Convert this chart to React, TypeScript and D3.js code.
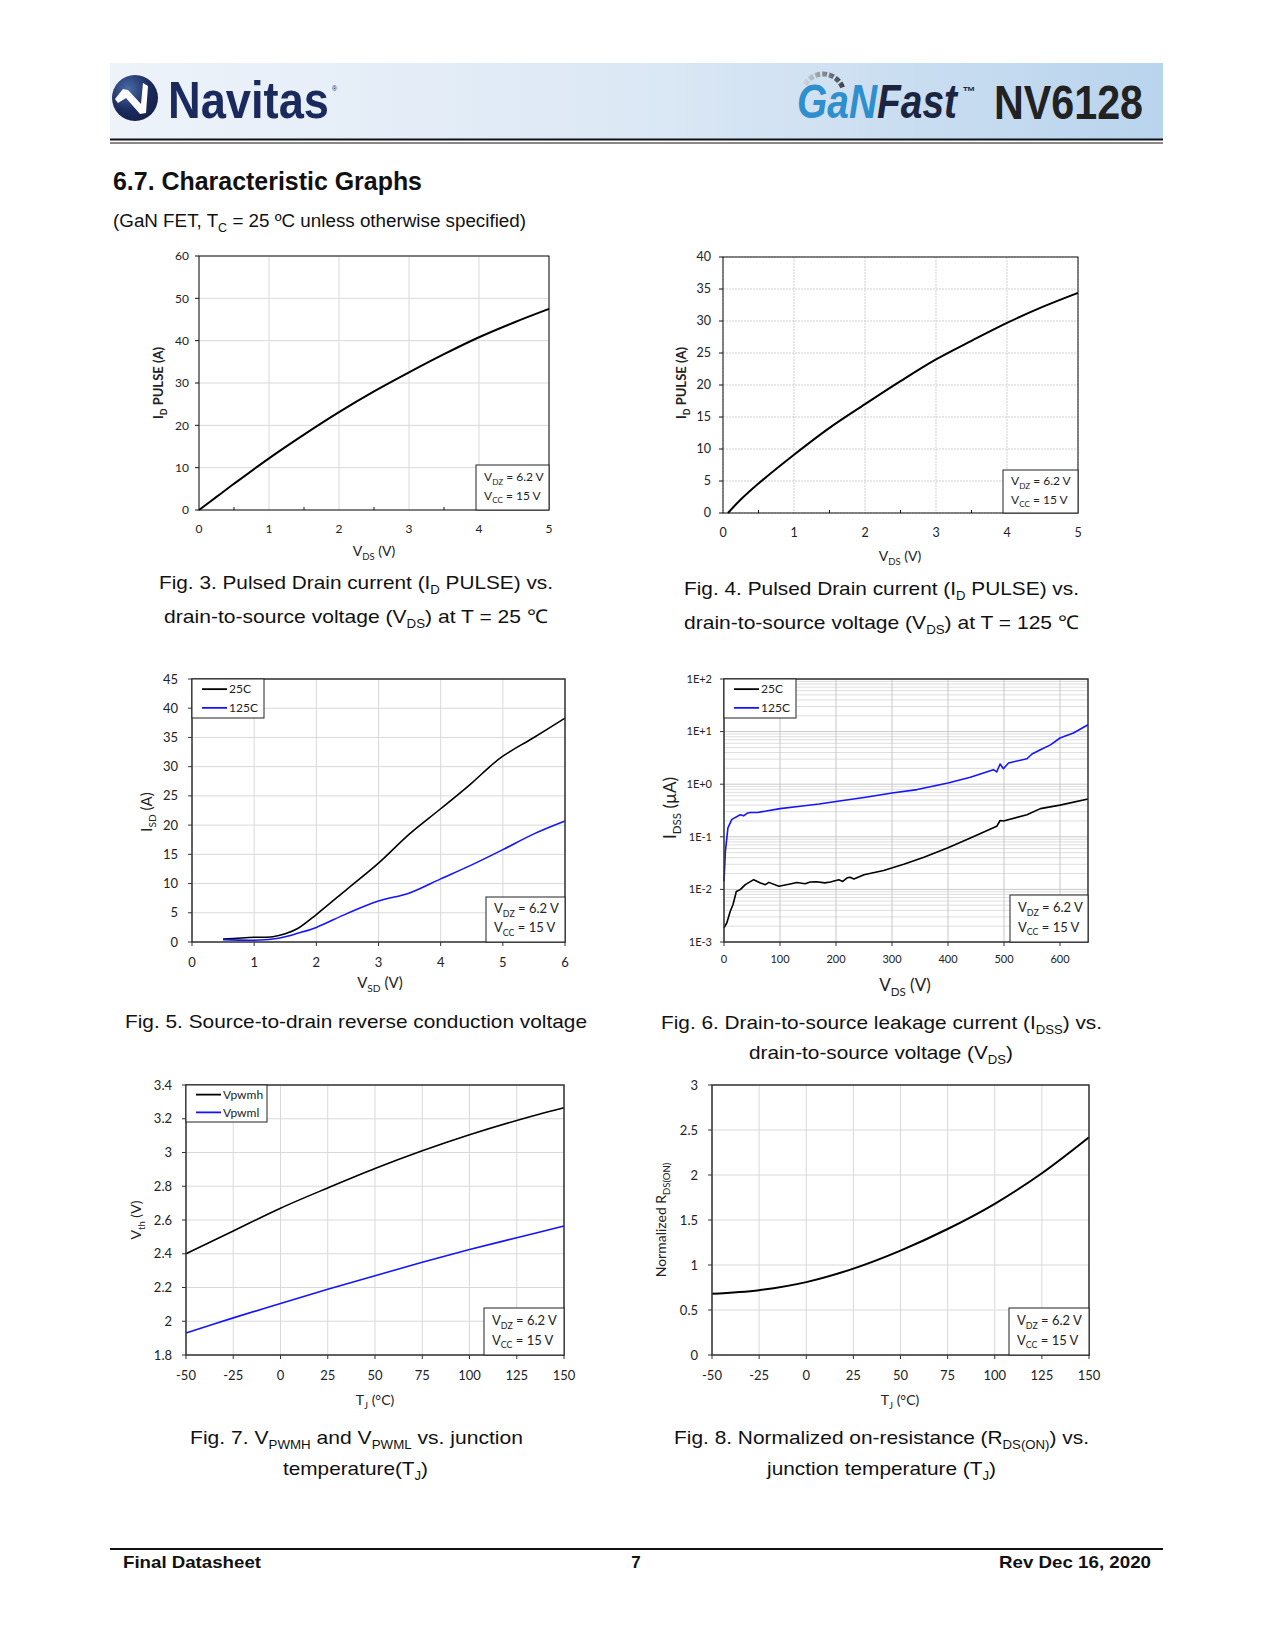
import React from 'react';
import * as d3 from 'd3';

// ---------- DATA ----------
// Fig 3: Pulsed drain current vs VDS at 25C
const fig3Vds = [0, 0.25, 0.5, 1, 1.5, 2, 2.5, 3, 3.5, 4, 4.5, 5];
const fig3Id = [0, 3.1, 6.2, 12.2, 17.8, 23.1, 28.0, 32.5, 36.8, 40.8, 44.3, 47.5];
const fig3XTicks = [0, 1, 2, 3, 4, 5];
const fig3YTicks = [0, 10, 20, 30, 40, 50, 60];

// Fig 4: Pulsed drain current vs VDS at 125C
const fig4Vds = [0.07, 0.25, 0.5, 1, 1.5, 2, 2.5, 3, 3.5, 4, 4.5, 5];
const fig4Id = [0, 2.1, 4.6, 9.1, 13.3, 17.0, 20.6, 24.0, 26.9, 29.7, 32.2, 34.4];
const fig4XTicks = [0, 1, 2, 3, 4, 5];
const fig4YTicks = [0, 5, 10, 15, 20, 25, 30, 35, 40];

// Fig 5: Source-to-drain reverse conduction
const fig5Vsd = [0.5, 1.0, 1.3, 1.5, 1.7, 2, 2.5, 3, 3.5, 4, 4.5, 4.8, 5, 5.5, 6];
const fig5Isd25 = [0.5, 0.8, 0.9, 1.4, 2.3, 4.7, 9.1, 13.5, 18.5, 22.8, 27.2, 30.1, 31.8, 35.0, 38.3];
const fig5Vsd125 = [0.5, 1.0, 1.3, 1.5, 1.7, 2, 2.5, 3, 3.5, 4, 4.5, 5, 5.5, 6];
const fig5Isd125 = [0.4, 0.3, 0.5, 0.9, 1.5, 2.5, 4.9, 7.0, 8.4, 10.8, 13.2, 15.8, 18.5, 20.7];
const fig5XTicks = [0, 1, 2, 3, 4, 5, 6];
const fig5YTicks = [0, 5, 10, 15, 20, 25, 30, 35, 40, 45];

// Fig 6: IDSS leakage vs VDS (uA, log)
const fig6Vds25 = [0, 5, 11, 16, 22, 29, 38, 53, 65, 74, 80, 98, 118, 130, 145, 154, 165, 180, 190, 205, 212, 220, 225, 232, 250, 285, 321, 357, 400, 440, 487, 493, 499, 541, 565, 600, 650];
const fig6I25 = [0.00185, 0.0023, 0.0038, 0.0051, 0.0091, 0.0099, 0.0123, 0.0153, 0.0132, 0.0123, 0.0136, 0.0115, 0.0127, 0.0135, 0.0128, 0.0138, 0.014, 0.0133, 0.0138, 0.0152, 0.0142, 0.0166, 0.017, 0.0158, 0.019, 0.0229, 0.030, 0.041, 0.062, 0.095, 0.158, 0.204, 0.2, 0.263, 0.343, 0.4, 0.525];
const fig6Vds125 = [0, 2.4, 7, 14, 29, 35, 41, 47, 60, 100, 136, 170, 200, 250, 300, 345, 400, 440, 481, 487, 493, 499, 508, 541, 550, 565, 583, 600, 624, 650];
const fig6I125 = [0.0142, 0.052, 0.148, 0.214, 0.263, 0.25, 0.28, 0.29, 0.29, 0.343, 0.38, 0.42, 0.47, 0.56, 0.68, 0.79, 1.05, 1.35, 1.89, 1.71, 2.42, 1.97, 2.53, 3.05, 3.75, 4.5, 5.6, 7.55, 9.4, 13.5];
const fig6XTicks = [0, 100, 200, 300, 400, 500, 600];
const fig6YTicks = [1e-3, 1e-2, 1e-1, 1, 10, 100];
const fig6YLabels = ['1E-3', '1E-2', '1E-1', '1E+0', '1E+1', '1E+2'];

// Fig 7: VPWMH / VPWML vs Tj
const fig7Tj = [-50, -25, 0, 25, 50, 75, 100, 125, 150];
const fig7Vpwmh = [2.4, 2.535, 2.67, 2.79, 2.905, 3.01, 3.105, 3.19, 3.265];
const fig7Vpwml = [1.93, 2.02, 2.105, 2.19, 2.27, 2.35, 2.425, 2.495, 2.565];
const fig7XTicks = [-50, -25, 0, 25, 50, 75, 100, 125, 150];
const fig7YTicks = [1.8, 2, 2.2, 2.4, 2.6, 2.8, 3, 3.2, 3.4];

// Fig 8: Normalized RDS(on) vs Tj
const fig8Tj = [-50, -25, 0, 25, 50, 75, 100, 125, 150];
const fig8Rds = [0.68, 0.72, 0.81, 0.96, 1.16, 1.40, 1.68, 2.02, 2.42];
const fig8XTicks = [-50, -25, 0, 25, 50, 75, 100, 125, 150];
const fig8YTicks = [0, 0.5, 1, 1.5, 2, 2.5, 3];

// ---------- HELPERS ----------
const CF = "Lato, 'Open Sans', sans-serif";
const SF = "'Liberation Sans', Arial, sans-serif";

type Ser = { xs: number[]; ys: number[]; color: string; width: number; linear?: boolean };

interface ChartProps {
  box: [number, number, number, number];
  xDomain: [number, number];
  yDomain: [number, number];
  log?: boolean;
  xTicks: number[];
  yTicks: number[];
  yLabels?: string[];
  minorX?: number[];
  gridColor: string;
  gridDash?: string;
  series: Ser[];
  fs: number;
  xTickBase: number;
  yTickRight: number;
  frameColor: string;
  frameWidth: number;
  xTickOut?: boolean;
  children?: React.ReactNode;
}

function Chart(p: ChartProps) {
  const [l, t, r, b] = p.box;
  const xs = d3.scaleLinear().domain(p.xDomain).range([l, r]);
  const ys: any = p.log
    ? d3.scaleLog().domain(p.yDomain).range([b, t])
    : d3.scaleLinear().domain(p.yDomain).range([b, t]);
  const minorY: number[] = [];
  if (p.log) {
    for (let d = -3; d <= 1; d++) for (let m = 2; m <= 9; m++) minorY.push(m * Math.pow(10, d));
  }
  return (
    <g>
      <rect x={l} y={t} width={r - l} height={b - t} fill="white" />
      {minorY.map((v, i) => (
        <line key={'my' + i} x1={l} x2={r} y1={ys(v)} y2={ys(v)} stroke="#d6d6d6" strokeWidth={0.8} />
      ))}
      {p.xTicks.map((v, i) => (
        <line key={'gx' + i} x1={xs(v)} x2={xs(v)} y1={t} y2={b} stroke={p.gridColor} strokeWidth={1} strokeDasharray={p.gridDash} />
      ))}
      {p.yTicks.map((v, i) => (
        <line key={'gy' + i} x1={l} x2={r} y1={ys(v)} y2={ys(v)} stroke={p.gridColor} strokeWidth={1} strokeDasharray={p.gridDash} />
      ))}
      {p.series.map((s, i) => {
        const pts = s.xs.map((x, k) => [x, s.ys[k]] as [number, number]);
        const gen = d3.line<[number, number]>()
          .x((d) => xs(d[0]))
          .y((d) => ys(d[1]))
          .curve(s.linear ? d3.curveLinear : d3.curveCatmullRom.alpha(0.5));
        return <path key={'s' + i} d={gen(pts) || ''} fill="none" stroke={s.color} strokeWidth={s.width} strokeLinejoin="round" />;
      })}
      <rect x={l} y={t} width={r - l} height={b - t} fill="none" stroke={p.frameColor} strokeWidth={p.frameWidth} />
      {p.yTicks.map((v, i) => (
        <line key={'ty' + i} x1={l - 4} x2={l} y1={ys(v)} y2={ys(v)} stroke={p.frameColor} strokeWidth={1} />
      ))}
      {p.xTicks.map((v, i) => (
        <line key={'tx' + i} x1={xs(v)} x2={xs(v)} y1={b} y2={b + (p.xTickOut ? 4 : 0)} stroke={p.frameColor} strokeWidth={1} />
      ))}
      {(p.minorX || []).map((v, i) => (
        <line key={'mx' + i} x1={xs(v)} x2={xs(v)} y1={b - 3} y2={b} stroke={p.frameColor} strokeWidth={1} />
      ))}
      {p.yTicks.map((v, i) => (
        <text key={'ly' + i} x={p.yTickRight} y={ys(v) + p.fs * 0.35} textAnchor="end" fontFamily={CF} fontSize={p.fs} fill="#222">
          {p.yLabels ? p.yLabels[i] : String(v)}
        </text>
      ))}
      {p.xTicks.map((v, i) => (
        <text key={'lx' + i} x={xs(v)} y={p.xTickBase} textAnchor="middle" fontFamily={CF} fontSize={p.fs} fill="#222">
          {String(v)}
        </text>
      ))}
      {p.children}
    </g>
  );
}

function SubT(main: string, s: string, rest: string, fs: number) {
  const d = fs * 0.28;
  return [
    <tspan key="a">{main}</tspan>,
    <tspan key="b" fontSize={fs * 0.68} dy={d}>{s}</tspan>,
    <tspan key="c" dy={-d}>{rest}</tspan>,
  ];
}

function CondBox({ x, y, w, h, fs }: { x: number; y: number; w: number; h: number; fs: number }) {
  return (
    <g>
      <rect x={x} y={y} width={w} height={h} fill="white" stroke="#222" strokeWidth={1} />
      <text x={x + 8} y={y + h * 0.36} fontFamily={CF} fontSize={fs} fill="#222">{SubT('V', 'DZ', ' = 6.2 V', fs)}</text>
      <text x={x + 8} y={y + h * 0.78} fontFamily={CF} fontSize={fs} fill="#222">{SubT('V', 'CC', ' = 15 V', fs)}</text>
    </g>
  );
}

function Legend({ x, y, w, h, names, colors, fs, lineLen }: { x: number; y: number; w: number; h: number; names: string[]; colors: string[]; fs: number; lineLen: number }) {
  return (
    <g>
      <rect x={x} y={y} width={w} height={h} fill="white" stroke="#222" strokeWidth={1} />
      {names.map((n, i) => {
        const cy = y + h * (i === 0 ? 0.26 : 0.74);
        return (
          <g key={n}>
            <line x1={x + 10} x2={x + 10 + lineLen} y1={cy} y2={cy} stroke={colors[i]} strokeWidth={1.8} />
            <text x={x + 12 + lineLen} y={cy + fs * 0.35} fontFamily={CF} fontSize={fs} fill="#222">{n}</text>
          </g>
        );
      })}
    </g>
  );
}

function Cap({ x, y, w, fs, children }: { x: number; y: number; w: number; fs: number; children: React.ReactNode }) {
  return (
    <text x={x} y={y} fontFamily={SF} fontSize={fs} fill="#111" textLength={w} lengthAdjust="spacingAndGlyphs">
      {children}
    </text>
  );
}

function YTitle({ cx, cy, fs, bold, children }: { cx: number; cy: number; fs: number; bold?: boolean; children: React.ReactNode }) {
  return (
    <text transform={`translate(${cx},${cy}) rotate(-90)`} textAnchor="middle" fontFamily={CF} fontSize={fs} fontWeight={bold ? 'bold' : 'normal'} fill="#222">
      {children}
    </text>
  );
}

function XTitle({ cx, y, fs, children }: { cx: number; y: number; fs: number; children: React.ReactNode }) {
  return (
    <text x={cx} y={y} textAnchor="middle" fontFamily={CF} fontSize={fs} fill="#222">{children}</text>
  );
}

export default function App() {
  const halfTicks = [0.5, 1.5, 2.5, 3.5, 4.5];
  return (
    <svg width={1275} height={1650} viewBox="0 0 1275 1650" style={{ position: 'absolute', left: 0, top: 0, background: 'white' }}>
      <defs>
        <linearGradient id="hdr" x1="0" x2="1" y1="0" y2="0">
          <stop offset="0" stopColor="#eef3fa" />
          <stop offset="0.5" stopColor="#dce8f5" />
          <stop offset="1" stopColor="#b9d4ed" />
        </linearGradient>
        <linearGradient id="swoosh" x1="0" x2="1" y1="0" y2="0">
          <stop offset="0" stopColor="#d0d4da" />
          <stop offset="1" stopColor="#3d434c" />
        </linearGradient>
        <radialGradient id="logoG" cx="0.35" cy="0.3" r="0.8">
          <stop offset="0" stopColor="#4a6aa8" />
          <stop offset="0.6" stopColor="#1b2a5c" />
          <stop offset="1" stopColor="#141f45" />
        </radialGradient>
      </defs>
      {/* Header */}
      <rect x={110} y={63} width={1053} height={76} fill="url(#hdr)" />
      <line x1={110} x2={1163} y1={139.5} y2={139.5} stroke="#111" strokeWidth={2} />
      <line x1={110} x2={1163} y1={143} y2={143} stroke="#111" strokeWidth={1} />
      <circle cx={135} cy={98} r={23} fill="url(#logoG)" />
      <path d="M115,99 L123,89 L128,90 L141,104 L143,83 L148,86 L146,113 L140,114 L126,98 L118,103 Z" fill="white" />
      <text x={168} y={118} fontFamily={SF} fontWeight="bold" fontSize={52} fill="#1b2a5c" textLength={161} lengthAdjust="spacingAndGlyphs">Navitas</text>
      <text x={332} y={91} fontFamily={SF} fontSize={7} fill="#1b2a5c">®</text>
      <path d="M804.8,84.5 A21,21 0 0 1 843.1,88.9" fill="none" stroke="url(#swoosh)" strokeWidth={5} strokeDasharray="5,2" />
      <text x={797} y={118} fontFamily={SF} fontWeight="bold" fontStyle="italic" fontSize={48} textLength={160} lengthAdjust="spacingAndGlyphs">
        <tspan fill="#2f8fcc">GaN</tspan>
        <tspan fill="#1b2540">Fast</tspan>
      </text>
      <text x={962} y={96} fontFamily={SF} fontWeight="bold" fontStyle="italic" fontSize={13} fill="#1b2540">™</text>
      <text x={994} y={119} fontFamily={SF} fontWeight="bold" fontSize={48} fill="#222" textLength={149} lengthAdjust="spacingAndGlyphs">NV6128</text>

      <text x={113} y={190} fontFamily={SF} fontWeight="bold" fontSize={25} fill="#111" textLength={309} lengthAdjust="spacingAndGlyphs">6.7. Characteristic Graphs</text>
      <Cap x={113} y={227} w={413} fs={18}>
        <tspan>(GaN FET, T</tspan>
        <tspan fontSize={12} dy={5}>C</tspan>
        <tspan dy={-5}> = 25 ºC unless otherwise specified)</tspan>
      </Cap>

      {/* Fig 3 */}
      <Chart box={[199, 256, 549, 510]} xDomain={[0, 5]} yDomain={[0, 60]} xTicks={fig3XTicks} yTicks={fig3YTicks}
        minorX={halfTicks} gridColor="#d9d9d9" fs={12} xTickBase={533} yTickRight={189} frameColor="#111" frameWidth={1}
        series={[{ xs: fig3Vds, ys: fig3Id, color: '#000', width: 2 }]}>
        <CondBox x={476} y={465} w={73} h={45} fs={12} />
      </Chart>
      <YTitle cx={163} cy={383} fs={13} bold>{SubT('I', 'D', ' PULSE (A)', 13)}</YTitle>
      <XTitle cx={374} y={556} fs={14}>{SubT('V', 'DS', ' (V)', 14)}</XTitle>
      <Cap x={159} y={589} w={394} fs={19}>
        <tspan>Fig. 3. Pulsed Drain current (I</tspan>
        <tspan fontSize={12} dy={5}>D</tspan>
        <tspan dy={-5}> PULSE) vs.</tspan>
      </Cap>
      <Cap x={164} y={623} w={384} fs={19}>
        <tspan>drain-to-source voltage (V</tspan>
        <tspan fontSize={12} dy={5}>DS</tspan>
        <tspan dy={-5}>) at T = 25 ℃</tspan>
      </Cap>

      {/* Fig 4 */}
      <Chart box={[723, 257, 1078, 513]} xDomain={[0, 5]} yDomain={[0, 40]} xTicks={fig4XTicks} yTicks={fig4YTicks}
        minorX={halfTicks} gridColor="#cfcfcf" gridDash="2,1" fs={12.5} xTickBase={537} yTickRight={711} frameColor="#111" frameWidth={1}
        series={[{ xs: fig4Vds, ys: fig4Id, color: '#000', width: 2 }]}>
        <CondBox x={1003} y={470} w={75} h={43} fs={12} />
      </Chart>
      <YTitle cx={686} cy={383} fs={13} bold>{SubT('I', 'D', ' PULSE (A)', 13)}</YTitle>
      <XTitle cx={900} y={561} fs={14}>{SubT('V', 'DS', ' (V)', 14)}</XTitle>
      <Cap x={684} y={595} w={395} fs={19}>
        <tspan>Fig. 4. Pulsed Drain current (I</tspan>
        <tspan fontSize={12} dy={5}>D</tspan>
        <tspan dy={-5}> PULSE) vs.</tspan>
      </Cap>
      <Cap x={684} y={629} w={395} fs={19}>
        <tspan>drain-to-source voltage (V</tspan>
        <tspan fontSize={12} dy={5}>DS</tspan>
        <tspan dy={-5}>) at T = 125 ℃</tspan>
      </Cap>

      {/* Fig 5 */}
      <Chart box={[192, 679, 565, 942]} xDomain={[0, 6]} yDomain={[0, 45]} xTicks={fig5XTicks} yTicks={fig5YTicks}
        gridColor="#d9d9d9" fs={13} xTickBase={967} yTickRight={178} frameColor="#333" frameWidth={1.5} xTickOut
        series={[
          { xs: fig5Vsd, ys: fig5Isd25, color: '#000', width: 1.6 },
          { xs: fig5Vsd125, ys: fig5Isd125, color: '#1414ff', width: 1.6 },
        ]}>
        <Legend x={192} y={679} w={72} h={39} names={['25C', '125C']} colors={['#000', '#1414ff']} fs={12} lineLen={25} />
        <CondBox x={486} y={897} w={79} h={45} fs={13} />
      </Chart>
      <YTitle cx={152} cy={812} fs={15}>{SubT('I', 'SD', ' (A)', 15)}</YTitle>
      <XTitle cx={380} y={988} fs={15}>{SubT('V', 'SD', ' (V)', 15)}</XTitle>
      <Cap x={125} y={1028} w={462} fs={19}>Fig. 5. Source-to-drain reverse conduction voltage</Cap>

      {/* Fig 6 */}
      <Chart box={[724, 679, 1088, 942]} xDomain={[0, 650]} yDomain={[1e-3, 100]} log xTicks={fig6XTicks} yTicks={fig6YTicks}
        yLabels={fig6YLabels} gridColor="#c8c8c8" fs={11} xTickBase={963} yTickRight={712} frameColor="#333" frameWidth={1.5} xTickOut
        series={[
          { xs: fig6Vds25, ys: fig6I25, color: '#000', width: 1.6, linear: true },
          { xs: fig6Vds125, ys: fig6I125, color: '#1414ff', width: 1.6, linear: true },
        ]}>
        <Legend x={724} y={679} w={72} h={39} names={['25C', '125C']} colors={['#000', '#1414ff']} fs={12} lineLen={25} />
        <CondBox x={1010} y={895} w={78} h={47} fs={13} />
      </Chart>
      <YTitle cx={676} cy={808} fs={17}>{SubT('I', 'DSS', ' (µA)', 17)}</YTitle>
      <XTitle cx={905} y={991} fs={17}>{SubT('V', 'DS', ' (V)', 17)}</XTitle>
      <Cap x={661} y={1029} w={441} fs={19}>
        <tspan>Fig. 6. Drain-to-source leakage current (I</tspan>
        <tspan fontSize={12} dy={5}>DSS</tspan>
        <tspan dy={-5}>) vs.</tspan>
      </Cap>
      <Cap x={749} y={1059} w={264} fs={19}>
        <tspan>drain-to-source voltage (V</tspan>
        <tspan fontSize={12} dy={5}>DS</tspan>
        <tspan dy={-5}>)</tspan>
      </Cap>

      {/* Fig 7 */}
      <Chart box={[186, 1085, 564, 1355]} xDomain={[-50, 150]} yDomain={[1.8, 3.4]} xTicks={fig7XTicks} yTicks={fig7YTicks}
        gridColor="#d9d9d9" fs={13} xTickBase={1380} yTickRight={172} frameColor="#333" frameWidth={1.5} xTickOut
        series={[
          { xs: fig7Tj, ys: fig7Vpwmh, color: '#000', width: 1.6 },
          { xs: fig7Tj, ys: fig7Vpwml, color: '#1414ff', width: 1.6 },
        ]}>
        <Legend x={186} y={1085} w={81} h={37} names={['Vpwmh', 'Vpwml']} colors={['#000', '#1414ff']} fs={12} lineLen={25} />
        <CondBox x={484} y={1308} w={80} h={47} fs={13} />
      </Chart>
      <YTitle cx={141} cy={1220} fs={14}>{SubT('V', 'th', ' (V)', 14)}</YTitle>
      <XTitle cx={375} y={1405} fs={14}>{SubT('T', 'J', ' (°C)', 14)}</XTitle>
      <Cap x={190} y={1444} w={333} fs={19}>
        <tspan>Fig. 7. V</tspan>
        <tspan fontSize={12} dy={5}>PWMH</tspan>
        <tspan dy={-5}> and V</tspan>
        <tspan fontSize={12} dy={5}>PWML</tspan>
        <tspan dy={-5}> vs. junction</tspan>
      </Cap>
      <Cap x={283} y={1475} w={145} fs={19}>
        <tspan>temperature(T</tspan>
        <tspan fontSize={12} dy={5}>J</tspan>
        <tspan dy={-5}>)</tspan>
      </Cap>

      {/* Fig 8 */}
      <Chart box={[712, 1085, 1089, 1355]} xDomain={[-50, 150]} yDomain={[0, 3]} xTicks={fig8XTicks} yTicks={fig8YTicks}
        gridColor="#d9d9d9" fs={13} xTickBase={1380} yTickRight={698} frameColor="#333" frameWidth={1.5} xTickOut
        series={[{ xs: fig8Tj, ys: fig8Rds, color: '#000', width: 2 }]}>
        <CondBox x={1009} y={1308} w={80} h={47} fs={13} />
      </Chart>
      <YTitle cx={666} cy={1220} fs={14}>{SubT('Normalized R', 'DS(ON)', '', 14)}</YTitle>
      <XTitle cx={900} y={1405} fs={14}>{SubT('T', 'J', ' (°C)', 14)}</XTitle>
      <Cap x={674} y={1444} w={415} fs={19}>
        <tspan>Fig. 8. Normalized on-resistance (R</tspan>
        <tspan fontSize={12} dy={5}>DS(ON)</tspan>
        <tspan dy={-5}>) vs.</tspan>
      </Cap>
      <Cap x={767} y={1475} w={229} fs={19}>
        <tspan>junction temperature (T</tspan>
        <tspan fontSize={12} dy={5}>J</tspan>
        <tspan dy={-5}>)</tspan>
      </Cap>

      {/* Footer */}
      <line x1={110} x2={1163} y1={1549} y2={1549} stroke="#111" strokeWidth={2} />
      <text x={123} y={1568} fontFamily={SF} fontWeight="bold" fontSize={17} fill="#111" textLength={138} lengthAdjust="spacingAndGlyphs">Final Datasheet</text>
      <text x={636} y={1568} fontFamily={SF} fontWeight="bold" fontSize={17} fill="#111" textAnchor="middle">7</text>
      <text x={999} y={1568} fontFamily={SF} fontWeight="bold" fontSize={17} fill="#111" textLength={152} lengthAdjust="spacingAndGlyphs">Rev Dec 16, 2020</text>
    </svg>
  );
}
